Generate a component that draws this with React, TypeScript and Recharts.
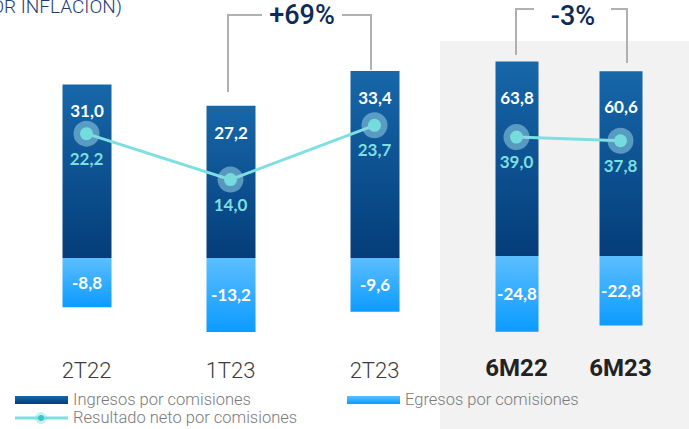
import { ComposedChart, Bar, Line, XAxis, YAxis, LabelList } from 'recharts'

// Trimestres
const quarterLabels = ['2T22', '1T23', '2T23']
const quarterIngresos = [31.0, 27.2, 33.4]
const quarterEgresos = [-8.8, -13.2, -9.6]
const quarterNeto = [22.2, 14.0, 23.7]

// Acumulado semestral
const semesterLabels = ['6M22', '6M23']
const semesterIngresos = [63.8, 60.6]
const semesterEgresos = [-24.8, -22.8]
const semesterNeto = [39.0, 37.8]

const VALUE_FONT = 'Lato, "Open Sans", sans-serif'
const TEXT_FONT = 'Roboto, "Noto Sans", sans-serif'
const NET_COLOR = '#7ddfe0'

function fmt(v: any) {
  if (v == null || v === '') return ''
  return Number(v).toFixed(1).replace('.', ',')
}

function NetDot(props: any) {
  const { cx, cy, index } = props
  if (cx == null || cy == null) return <g key={`d-${index}`} />
  return (
    <g key={`d-${index}`}>
      <circle cx={cx} cy={cy} r={13} fill="rgba(150,210,228,0.55)" />
      <circle cx={cx} cy={cy} r={6.5} fill="#74dcdc" />
    </g>
  )
}

function makeTick(bold: boolean) {
  return function Tick({ x, y, payload }: any) {
    return (
      <text
        x={x}
        y={y}
        dy={bold ? 26 : 28}
        textAnchor="middle"
        fontFamily={TEXT_FONT}
        fontSize={bold ? 24 : 22}
        fontWeight={bold ? 700 : 300}
        fill={bold ? '#222' : '#3a3a3a'}
      >
        {payload.value}
      </text>
    )
  }
}

interface PanelProps {
  id: string
  labels: string[]
  ingresos: number[]
  egresos: number[]
  neto: number[]
  width: number
  left: number
  margin: { top: number; right: number; bottom: number; left: number }
  barSize: number
  domain: [number, number]
  bold: boolean
  topOffset: number
}

function Panel(p: PanelProps) {
  const rows = p.labels.map((label, i) => ({
    label,
    ingresos: p.ingresos[i],
    egresos: p.egresos[i],
    neto: p.neto[i],
  }))
  return (
    <div style={{ position: 'absolute', left: p.left, top: 0 }}>
      <ComposedChart width={p.width} height={429} data={rows} stackOffset="sign" margin={p.margin}>
        <defs>
          <linearGradient id={`ing-${p.id}`} x1="0" y1="0" x2="0" y2="1">
            <stop offset="0%" stopColor="#1767a9" />
            <stop offset="100%" stopColor="#043d7a" />
          </linearGradient>
          <linearGradient id={`egr-${p.id}`} x1="0" y1="0" x2="0" y2="1">
            <stop offset="0%" stopColor="#5cbeff" />
            <stop offset="100%" stopColor="#0b9bff" />
          </linearGradient>
        </defs>
        <XAxis
          dataKey="label"
          axisLine={false}
          tickLine={false}
          height={30}
          interval={0}
          tick={makeTick(p.bold)}
        />
        <YAxis hide type="number" domain={p.domain} allowDataOverflow />
        <Bar dataKey="ingresos" stackId="s" barSize={p.barSize} fill={`url(#ing-${p.id})`} isAnimationActive={false}>
          <LabelList
            dataKey="ingresos"
            position="insideTop"
            offset={p.topOffset}
            formatter={fmt}
            fill="#fff"
            fontSize={17}
            fontWeight={700}
            fontFamily={VALUE_FONT}
          />
        </Bar>
        <Bar dataKey="egresos" stackId="s" barSize={p.barSize} fill={`url(#egr-${p.id})`} isAnimationActive={false}>
          <LabelList
            dataKey="egresos"
            position="center"
            formatter={fmt}
            fill="#fff"
            fontSize={17}
            fontWeight={700}
            fontFamily={VALUE_FONT}
          />
        </Bar>
        <Line
          dataKey="neto"
          stroke={NET_COLOR}
          strokeWidth={3}
          dot={NetDot}
          activeDot={false}
          isAnimationActive={false}
        >
          <LabelList
            dataKey="neto"
            position="bottom"
            offset={19}
            formatter={fmt}
            fill={NET_COLOR}
            fontSize={17}
            fontWeight={700}
            fontFamily={VALUE_FONT}
          />
        </Line>
      </ComposedChart>
    </div>
  )
}

function LegendRow() {
  const txt: React.CSSProperties = {
    position: 'absolute',
    fontFamily: TEXT_FONT,
    fontSize: 16.5,
    fontWeight: 300,
    color: '#7a7a7a',
    lineHeight: '18px',
    whiteSpace: 'nowrap',
  }
  return (
    <>
      <div style={{ position: 'absolute', left: 15, top: 396, width: 53, height: 8, background: 'linear-gradient(#1767a9, #043d7a)' }} />
      <div style={{ ...txt, left: 73, top: 391 }}>Ingresos por comisiones</div>
      <div style={{ position: 'absolute', left: 347, top: 396, width: 53, height: 8, background: 'linear-gradient(#5cbeff, #0b9bff)' }} />
      <div style={{ ...txt, left: 405, top: 391 }}>Egresos por comisiones</div>
      <svg style={{ position: 'absolute', left: 15, top: 410 }} width={53} height={16}>
        <line x1={0} y1={8} x2={53} y2={8} stroke={NET_COLOR} strokeWidth={3} />
        <circle cx={26} cy={8} r={6} fill="rgba(125,223,224,0.45)" />
        <circle cx={26} cy={8} r={3} fill="#3cc4c8" />
      </svg>
      <div style={{ ...txt, left: 73, top: 409 }}>Resultado neto por comisiones</div>
    </>
  )
}

export default function App() {
  return (
    <div style={{ position: 'fixed', left: 0, top: 0, width: 689, height: 429, background: '#fff', overflow: 'hidden' }}>
      <div style={{ position: 'absolute', left: 440, top: 41, width: 249, height: 388, background: '#f2f2f2' }} />
      <Panel
        id="q"
        labels={quarterLabels}
        ingresos={quarterIngresos}
        egresos={quarterEgresos}
        neto={quarterNeto}
        width={460}
        left={0}
        margin={{ top: 34, right: 13.5, bottom: 57, left: 14.5 }}
        barSize={49}
        domain={[-15, 40]}
        bold={false}
        topOffset={21}
      />
      <Panel
        id="h"
        labels={semesterLabels}
        ingresos={semesterIngresos}
        egresos={semesterEgresos}
        neto={semesterNeto}
        width={249}
        left={440}
        margin={{ top: 34, right: 16.5, bottom: 57, left: 24.5 }}
        barSize={43}
        domain={[-28.2, 72.8]}
        bold={true}
        topOffset={30}
      />
      <svg style={{ position: 'absolute', left: 0, top: 0, pointerEvents: 'none' }} width={689} height={429}>
        <text x={122} y={13} textAnchor="end" fontFamily={TEXT_FONT} fontSize={19} fontWeight={300} fill="#1f3d73">
          POR INFLACIÓN)
        </text>
        <g stroke="#b0b0b0" strokeWidth={2} fill="none">
          <polyline points="228,92 228,15 262,15" />
          <polyline points="342,15 371,15 371,70" />
          <polyline points="516,55 516,9 534,9" />
          <polyline points="611,9 627,9 627,63" />
        </g>
        <text x={302} y={24} textAnchor="middle" fontFamily={TEXT_FONT} fontSize={27} fontWeight={500} fill="#0d2b58">
          +69%
        </text>
        <text x={573} y={25} textAnchor="middle" fontFamily={TEXT_FONT} fontSize={27} fontWeight={500} fill="#0d2b58">
          -3%
        </text>
      </svg>
      <LegendRow />
    </div>
  )
}
